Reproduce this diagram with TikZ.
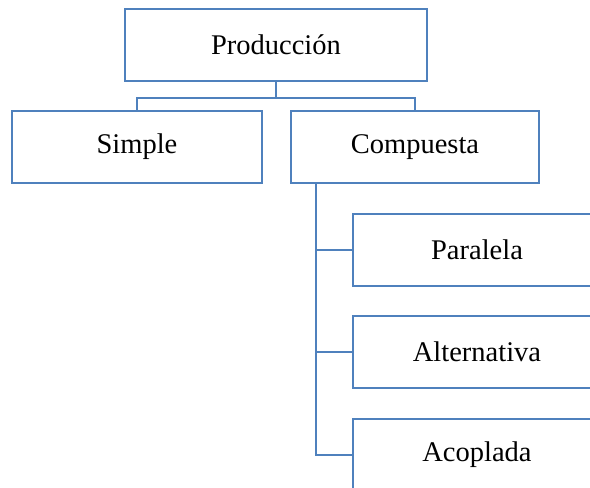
\documentclass[tikz,border=0pt]{standalone}
\usepackage{fontspec}
\setmainfont{Liberation Serif}
\definecolor{boxblue}{RGB}{79,129,189}
\begin{document}
\begin{tikzpicture}[x=1pt,y=-1pt,
  box/.style={draw=boxblue,line width=2pt,fill=white,rectangle,inner sep=0pt,
    minimum width=248pt,minimum height=72pt,font=\fontsize{28.5}{30}\selectfont},
  link/.style={draw=boxblue,line width=2pt}]
\useasboundingbox (0,0) rectangle (590,488);
\clip (0,0) rectangle (590,488);
\node[box,minimum width=302pt] (prod) at (276,45) {Producción};
\node[box,minimum width=250pt] (simple) at (137,147) {Simple};
\node[box,minimum width=248pt] (comp) at (415,147) {Compuesta};
\node[box] (par) at (477,250) {Paralela};
\node[box] (alt) at (477,352) {Alternativa};
\node[box] (aco) at (477,455) {Acoplada};
\draw[link] (prod.south) -- ++(0,16) -| (simple.north);
\draw[link] (prod.south) -- ++(0,16) -| (comp.north);
\draw[link] ([xshift=26pt]comp.south west) |- (par.west);
\draw[link] ([xshift=26pt]comp.south west) |- (alt.west);
\draw[link] ([xshift=26pt]comp.south west) |- (aco.west);
\end{tikzpicture}
\end{document}
